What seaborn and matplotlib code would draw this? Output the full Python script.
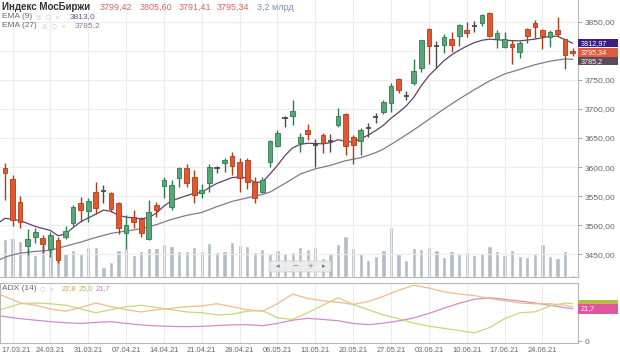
import numpy as np
import pandas as pd
import matplotlib
matplotlib.use("Agg")
import matplotlib.pyplot as plt
from matplotlib.patches import Rectangle, FancyBboxPatch
import seaborn as sns

# ---------------- data ----------------
opens = [3599, 3579, 3540, 3464, 3479, 3478, 3460, 3475, 3480, 3503,
         3538, 3525, 3558, 3559, 3555, 3538, 3487, 3514, 3510, 3477,
         3535, 3567, 3532, 3581, 3598, 3583, 3556, 3572, 3598, 3607,
         3619, 3609, 3612, 3575, 3558, 3609, 3636, 3684, 3688, 3642,
         3664, 3638, 3655, 3644, 3672, 3692, 3652, 3644, 3667, 3686,
         3695, 3710, 3751, 3723, 3744, 3770, 3837, 3809, 3810, 3820,
         3825, 3836, 3842, 3847, 3865, 3821, 3806, 3812, 3798, 3837,
         3847, 3835, 3823, 3835, 3820, 3799.42]
highs = [3607, 3586, 3550, 3493, 3495, 3483, 3489, 3480, 3499, 3535,
         3549, 3546, 3575, 3569, 3558, 3540, 3518, 3527, 3515, 3543,
         3540, 3583, 3578, 3601, 3606, 3595, 3571, 3606, 3602, 3615,
         3626, 3615, 3615, 3583, 3583, 3647, 3664, 3688, 3715, 3658,
         3674, 3648, 3658, 3657, 3701, 3693, 3655, 3668, 3675, 3693,
         3715, 3744, 3754, 3730, 3785, 3818, 3839, 3816, 3829, 3832,
         3846, 3850, 3852, 3864, 3867, 3836, 3833, 3818, 3816, 3839,
         3853, 3837, 3835, 3858, 3821, 3805.60]
lows = [3543, 3499, 3495, 3449, 3470, 3452, 3446, 3435, 3477, 3499,
        3506, 3506, 3520, 3538, 3523, 3485, 3460, 3495, 3480, 3475,
        3515, 3546, 3527, 3566, 3566, 3538, 3546, 3558, 3589, 3592,
        3586, 3558, 3563, 3538, 3556, 3601, 3635, 3669, 3672, 3626,
        3647, 3601, 3624, 3626, 3669, 3621, 3605, 3621, 3652, 3675,
        3692, 3695, 3727, 3715, 3741, 3764, 3778, 3770, 3796, 3798,
        3808, 3824, 3833, 3843, 3824, 3804, 3804, 3778, 3787, 3813,
        3822, 3803, 3807, 3825, 3768, 3791.41]
closes = [3590, 3509, 3506, 3476, 3489, 3468, 3483, 3440, 3490, 3531,
          3526, 3542, 3529, 3559, 3528, 3495, 3500, 3506, 3486, 3523,
          3527, 3578, 3569, 3598, 3573, 3552, 3561, 3601, 3598, 3612,
          3602, 3581, 3575, 3546, 3578, 3644, 3659, 3684, 3696, 3652,
          3657, 3638, 3641, 3644, 3688, 3636, 3638, 3663, 3667, 3686,
          3712, 3739, 3732, 3723, 3766, 3818, 3808, 3809, 3823, 3810,
          3844, 3830, 3842, 3861, 3825, 3830, 3820, 3807, 3814, 3825,
          3841, 3825, 3833, 3829, 3793, 3795.34]
volumes = [79, 81, 76, 58, 46, 67, 79, 41, 51, 56,
           48, 63, 62, 20, 32, 56, 60, 46, 55, 60,
           60, 70, 65, 55, 55, 63, 55, 72, 53, 55,
           74, 67, 65, 53, 58, 49, 56, 51, 53, 62,
           58, 62, 39, 48, 70, 86, 60, 49, 35, 44,
           56, 105, 48, 35, 60, 58, 62, 56, 42, 55,
           48, 53, 46, 50, 65, 55, 46, 57, 44, 42,
           49, 70, 44, 39, 55, 3.2]

ema9_bar = [-0.66, 0, 2, 4, 6, 7, 8, 9, 10, 12, 13, 14, 15, 16, 18, 19, 20, 21, 22, 24,
            25, 26, 27, 28, 30, 31, 32, 33, 34, 35, 36, 37, 38, 39, 40, 42, 43, 44, 45, 46,
            47, 48, 49, 50, 51, 52, 53, 54, 55, 56, 57, 58, 59, 60, 61, 62, 63, 64, 66, 68,
            70, 72, 73, 74, 75]
ema9_val = [3506, 3512, 3508, 3498, 3491, 3482, 3485, 3496, 3506, 3519, 3526, 3524, 3517, 3514,
            3511, 3513, 3521, 3533, 3542, 3551, 3555, 3556, 3565, 3572, 3582, 3583, 3581, 3574,
            3574, 3588, 3603, 3620, 3633, 3639, 3641, 3640, 3642, 3647, 3644, 3643, 3649, 3655,
            3663, 3672, 3684, 3694, 3705, 3720, 3740, 3757, 3770, 3783, 3793, 3801, 3808, 3814,
            3818, 3820, 3818, 3817, 3820, 3825, 3825, 3819, 3813]
ema27_bar = [-0.66, 0, 1, 2, 4, 6, 8, 10, 12, 14, 16, 18, 20, 22, 24, 26, 28, 30, 32, 34,
             35, 37, 39, 41, 43, 45, 47, 49, 50, 52, 54, 56, 58, 60, 62, 64, 66, 68, 70, 72,
             74, 75]
ema27_val = [3441, 3445, 3449, 3452, 3455, 3457, 3464, 3471, 3479, 3486, 3490, 3494, 3501, 3510,
             3517, 3522, 3532, 3541, 3547, 3553, 3557, 3572, 3588, 3597, 3603, 3611, 3616, 3625,
             3631, 3647, 3664, 3682, 3700, 3717, 3733, 3748, 3760, 3768, 3776, 3782, 3786, 3785.2]

adx_bar = [-0.66, 2, 4, 6, 8, 10, 12, 14, 16, 18, 20, 22, 24, 26, 28, 30, 32, 34, 36, 38,
           40, 42, 44, 46, 48, 50, 52, 54, 56, 58, 60, 62, 64, 66, 68, 70, 72, 74, 75]
di_plus = [31.2, 25.5, 24, 21.5, 20, 22.5, 25.5, 23, 21, 19.5, 21, 22, 23, 23.5, 25, 23, 21, 20,
           25, 31.5, 28.5, 27, 26, 24.5, 26.5, 30, 34, 37.4, 35.5, 33, 31.5, 30.5, 28.5, 27,
           25.5, 25, 25, 24, 22.8]
di_minus = [21, 25, 25.5, 25, 24, 21.5, 19, 21, 23, 24, 22.5, 21, 19.5, 19, 17.5, 18, 20, 20.5,
            15.5, 14.5, 19, 24, 29, 24.5, 21, 17.5, 15, 12, 10, 8.5, 7, 5.5, 9, 15, 19, 19.5,
            23.5, 25.5, 25]
adx_val = [16.8, 15, 14, 13, 12.3, 11.8, 12.5, 13, 11.8, 10.8, 10.2, 9.8, 9.7, 9.8, 10.4, 10.8,
           11, 10.3, 11.8, 14, 15.2, 14.5, 13.6, 11.8, 11, 12, 13.5, 15.5, 18.5, 22, 25.3, 28,
           29, 28, 26.8, 25.5, 24, 22.3, 21.7]

date_labels = ["17.03.21", "24.03.21", "31.03.21", "07.04.21", "14.04.21", "21.04.21",
               "28.04.21", "06.05.21", "13.05.21", "20.05.21", "27.05.21", "03.06.21",
               "10.06.21", "17.06.21", "24.06.21"]
price_ticks = [3450, 3500, 3550, 3600, 3650, 3700, 3750, 3800, 3850]
hidden_price_label = 3800   # covered by the value boxes in the reference

# ---------------- styling ----------------
sns.set_theme(style="white")
plt.rcParams["font.family"] = ["Liberation Sans", "DejaVu Sans"]

W, H = 620, 358
fig = plt.figure(figsize=(W / 100, H / 100), dpi=100)
fig.patch.set_facecolor("white")


def rect(x0, y0, x1, y1):
    return [x0 / W, 1 - y1 / H, (x1 - x0) / W, (y1 - y0) / H]


main_rect = rect(0, 0, 578, 277)
ax_vol = fig.add_axes(main_rect)
ax = fig.add_axes(main_rect, sharex=ax_vol)
ax_adx = fig.add_axes(rect(0, 283, 578, 343), sharex=ax_vol)
ax.patch.set_visible(False)

GRID = "#ececec"
SPINE = "#b8b8b8"
TICK_TXT = "#666666"

# volume bars
bars = np.arange(len(closes))
vol_df = pd.DataFrame({"bar": bars, "volume": volumes})
sns.barplot(data=vol_df, x="bar", y="volume", ax=ax_vol, native_scale=True,
            color="#b2bcc6", saturation=1, width=0.56, errorbar=None)
ax_vol.set_ylim(0, 582)
ax_vol.axis("off")

# candles
o = np.array(opens, float)
c = np.array(closes, float)
hi = np.array(highs, float)
lo = np.array(lows, float)
up = c > o
dn = c < o
fl = c == o
GREEN, GREEN_E = "#58a577", "#2f7a4f"
RED, RED_E = "#e4572e", "#ad3c1c"
DOJI = "#4a4a4a"
wick_col = np.where(up, GREEN_E, np.where(dn, RED_E, DOJI))
ax.vlines(bars, lo, hi, colors=wick_col, lw=1.0, zorder=3)
ax.bar(bars[up], (c - o)[up], bottom=o[up], width=0.62, color=GREEN,
       edgecolor=GREEN_E, lw=0.6, zorder=4)
ax.bar(bars[dn], (o - c)[dn], bottom=c[dn], width=0.62, color=RED,
       edgecolor=RED_E, lw=0.6, zorder=4)
ax.hlines(c[fl], bars[fl] - 0.34, bars[fl] + 0.34, colors=DOJI, lw=1.3, zorder=4)

# EMA lines
sns.lineplot(x=ema27_bar, y=ema27_val, ax=ax, color="#86788a", lw=0.9, zorder=2)
sns.lineplot(x=ema9_bar, y=ema9_val, ax=ax, color="#5c4466", lw=0.9, zorder=2)

ax.set_ylim(3411, 3887.3)
ax.set_yticks(price_ticks)
ax.set_yticklabels(["" if p == hidden_price_label else f"{p:.2f}".replace(".", ",")
                    for p in price_ticks])
ax.yaxis.tick_right()
ax.tick_params(axis="y", length=3, width=0.6, color="#999999", labelsize=6,
               labelcolor=TICK_TXT, pad=2)
ax.tick_params(axis="x", length=0, labelbottom=False)
ax.grid(True, axis="both", color=GRID, lw=0.8, zorder=0)
for s in ["top", "left"]:
    ax.spines[s].set_visible(False)
for s in ["right", "bottom"]:
    ax.spines[s].set_color(SPINE)
    ax.spines[s].set_linewidth(0.8)
ax.set_xlabel("")
ax.set_ylabel("")

# ADX panel
sns.lineplot(x=adx_bar, y=adx_val, ax=ax_adx, color="#d08cc8", lw=0.9)
sns.lineplot(x=adx_bar, y=di_minus, ax=ax_adx, color="#c9d67e", lw=0.9)
sns.lineplot(x=adx_bar, y=di_plus, ax=ax_adx, color="#f2bb8c", lw=0.9)
ax_adx.set_ylim(-1.3, 38.9)
ax_adx.yaxis.tick_right()
ax_adx.set_yticks([0])
ax_adx.set_yticklabels(["0"])
ax_adx.tick_params(axis="y", length=3, width=0.6, color="#999999", labelsize=6,
                   labelcolor=TICK_TXT, pad=2)
tick_pos = list(range(1, 1 + 5 * len(date_labels), 5))
ax_adx.set_xticks(tick_pos)
# the first label is pushed inside the left edge in the reference; drawn separately below
ax_adx.set_xticklabels([""] + date_labels[1:])
ax_adx.tick_params(axis="x", length=0, labelsize=5.4, labelcolor=TICK_TXT, pad=3)
ax_adx.grid(True, axis="x", color=GRID, lw=0.8)
for s in ax_adx.spines.values():
    s.set_color(SPINE)
    s.set_linewidth(0.8)
ax_adx.set_xlabel("")
ax_adx.set_ylabel("")

ax_vol.set_xlim(-0.66, 75.7)

# ---------------- value boxes on the right ----------------
def fig_y(axx, v):
    return axx.transData.transform((0, v))[1] / fig.bbox.height


def box(yc, hpx, fc, text, tc, z):
    hf = hpx / H
    fig.patches.append(Rectangle((578 / W, yc - hf / 2), 40 / W, hf, transform=fig.transFigure,
                                 fc=fc, ec="none", zorder=z))
    if text:
        fig.text(581 / W, yc, text, color=tc, fontsize=5.2, va="center", ha="left",
                 zorder=z + 0.5)


y_ema9 = fig_y(ax, ema9_val[-1])
box(fig_y(ax, ema27_val[-1]) - 2 / H, 8, "#5b4a5c", "3785,2", "white", 5)
box(y_ema9 - 9 / H, 9, "#e45a3c", "3795,34", "white", 6)
box(y_ema9, 8, "#3f1c86", "3812,97", "white", 7)

box(fig_y(ax_adx, di_minus[-1]), 8, "#a5c540", "", "white", 5)
box(fig_y(ax_adx, di_plus[-1]), 8, "#f0a066", "", "white", 6)
box(fig_y(ax_adx, adx_val[-1]), 10, "#e0559c", "21,7", "white", 7)

# ---------------- legend texts ----------------
def t(x, y, s, color, size=6, weight="normal", family=None):
    kw = {}
    if family:
        kw["family"] = family
    fig.text(x / W, 1 - y / H, s, color=color, fontsize=size, weight=weight,
             va="center", ha="left", zorder=10, **kw)


t(2, 7, "Индекс МосБиржи", "#333333", 7, "bold")
for x, s in zip([100, 140, 179, 217], ["3799,42", "3805,60", "3791,41", "3795,34"]):
    t(x, 7, s, "#d2675c", 6.5)
t(257, 7, "3,2 млрд", "#7b8db2", 6.5)

icons_family = ["DejaVu Sans"]
t(2, 16.5, "EMA (9)", "#6a6a6a", 6)
t(36, 16.5, "◎  ○  ×", "#c4c4c4", 4.5, family=icons_family)
t(70, 16.5, "3813,0", "#6c4f90", 6)
t(2, 25.5, "EMA (27)", "#6a6a6a", 6)
t(42, 25.5, "◎  ○  ×", "#c4c4c4", 4.5, family=icons_family)
t(75, 25.5, "3785,2", "#8b7c8b", 6)

t(2, 289, "ADX (14)", "#6a6a6a", 6)
t(40, 289, "○  ×", "#c4c4c4", 4.5, family=icons_family)
t(62, 289, "22,8", "#e39b5c", 5.4)
t(79, 289, "25,0", "#a9c24a", 5.4)
t(96, 289, "21,7", "#c27ac7", 5.4)

# first date label, kept inside the left edge
fig.text(1 / W, 1 - 351 / H, date_labels[0], color=TICK_TXT, fontsize=5.4,
         va="center", ha="left")

# small navigation widget
fig.patches.append(FancyBboxPatch((269 / W, 1 - 272 / H), 62 / W, 11 / H,
                                  boxstyle="round,pad=0,rounding_size=0.004",
                                  transform=fig.transFigure, fc="#ececec", ec="#d2d2d2",
                                  lw=0.6, alpha=0.9, zorder=8))
for x, s in zip([276, 292, 307, 322], ["◂", "−", "+", "▸"]):
    t(x, 266.5, s, "#777777", 5, family=icons_family)

fig.savefig("out.png", dpi=100, facecolor="white")
